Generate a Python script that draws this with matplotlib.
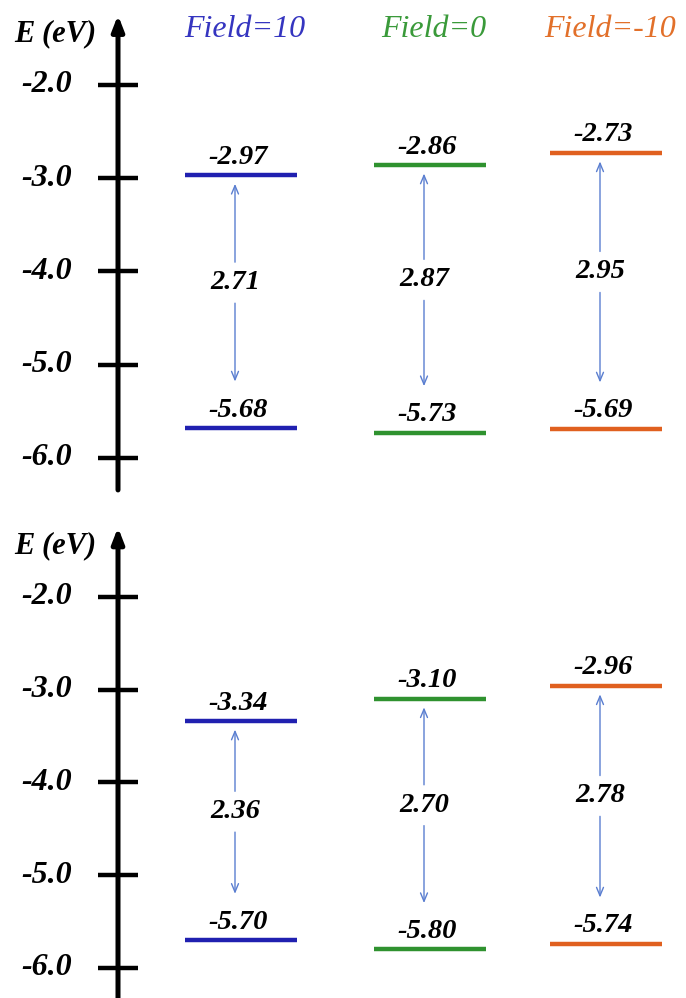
import matplotlib.pyplot as plt

# frontier orbital energies (eV) for each field strength
fields = ['Field=10', 'Field=0', 'Field=-10']
lumo_top = [-2.97, -2.86, -2.73]
homo_top = [-5.68, -5.73, -5.69]
gap_top = [2.71, 2.87, 2.95]
lumo_bot = [-3.34, -3.10, -2.96]
homo_bot = [-5.70, -5.80, -5.74]
gap_bot = [2.36, 2.70, 2.78]
ticks = [-2.0, -3.0, -4.0, -5.0, -6.0]

colors = ['#2020b0', '#2f922f', '#e0601f']
title_colors = ['#3535c0', '#3a9a3a', '#e2702a']
arrow_col = '#5a7ed0'

col_x = [241, 430, 606]   # column centres (pixels across the figure)
half_w = 56
axis_x = 118

FONT = 'Liberation Serif'

fig = plt.figure(figsize=(6.86, 9.98), dpi=100)
ax1 = fig.add_axes([0, 0.5, 1, 0.5])
ax2 = fig.add_axes([0, 0, 1, 0.5])


def panel(ax, lumo, homo, gaps, ylim, axis_bottom, titles):
    ax.set_xlim(0, 686)
    ax.set_ylim(*ylim)
    ax.axis('off')

    # energy axis with arrow head
    ax.annotate('', xy=(axis_x, -1.25), xytext=(axis_x, axis_bottom),
                arrowprops=dict(arrowstyle='-|>,head_width=0.35,head_length=0.9',
                                lw=3.6, color='black', shrinkA=0, shrinkB=0))
    for t in ticks:
        ax.plot([axis_x - 20, axis_x + 20], [t, t], color='black', lw=3.2,
                solid_capstyle='butt')
        ax.text(axis_x - 46, t, '%.1f' % t, ha='right', va='center',
                fontsize=23, family=FONT, weight='bold', style='italic')
    ax.text(55, -1.45, 'E (eV)', ha='center', va='center', fontsize=22,
            family=FONT, weight='bold', style='italic')

    for i in range(3):
        x = col_x[i]
        for e in (lumo[i], homo[i]):
            ax.plot([x - half_w, x + half_w], [e, e], color=colors[i], lw=3.2,
                    solid_capstyle='butt')
            ax.text(x - 3, e + 0.06, '%.2f' % e, ha='center', va='bottom',
                    fontsize=20.5, family=FONT, weight='bold', style='italic')

        ax_x = x - 6
        top = lumo[i] - 0.09
        bot = homo[i] + 0.5
        mid = (top + bot) / 2
        ax.text(ax_x, mid, '%.2f' % gaps[i], ha='center', va='center', fontsize=20.5,
                family=FONT, weight='bold', style='italic')
        aprops = dict(arrowstyle='->,head_width=0.25,head_length=0.6',
                      lw=1.0, color=arrow_col, shrinkA=0, shrinkB=0)
        ax.annotate('', xy=(ax_x, top), xytext=(ax_x, mid + 0.22), arrowprops=aprops)
        ax.annotate('', xy=(ax_x, bot), xytext=(ax_x, mid - 0.22), arrowprops=aprops)

        if titles:
            ax.text(x + 4, -1.40, fields[i], ha='center', va='center', fontsize=23,
                    family=FONT, style='italic', color=title_colors[i])


panel(ax1, lumo_top, homo_top, gap_top, (-6.44, -1.0885), -6.343, True)
panel(ax2, lumo_bot, homo_bot, gap_bot, (-6.3235, -0.9434), -6.6, False)

fig.savefig('out.png', dpi=100)
